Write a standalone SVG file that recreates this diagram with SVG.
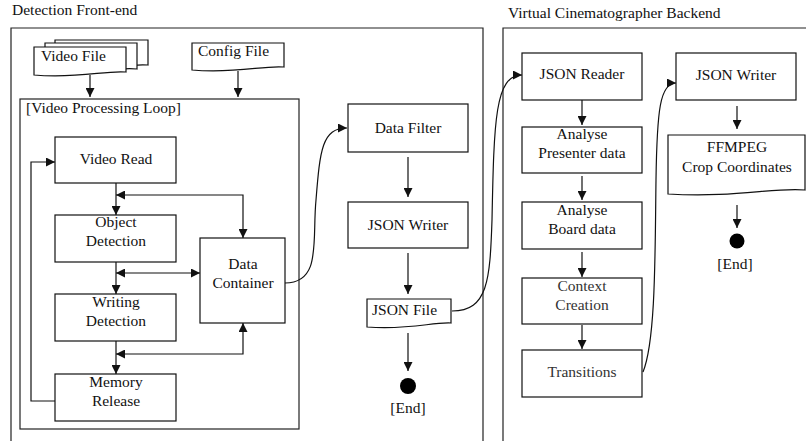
<svg xmlns="http://www.w3.org/2000/svg" width="806" height="441" viewBox="0 0 806 441" font-family="'Liberation Serif', 'Times New Roman', Times, serif" font-size="15.5">
<defs>
<style>
text{font-family:'Liberation Serif','Times New Roman',Times,serif;font-size:15.5px;fill:#111}
.c{text-anchor:middle}
.cm{fill:#333}
.box{fill:#fff;stroke:#111;stroke-width:1.2}
.frame{fill:none;stroke:#222;stroke-width:1.2}
.ln{fill:none;stroke:#111;stroke-width:1.2}
</style>
<marker id="ah" viewBox="0 0 10 10" refX="10" refY="5" markerWidth="9" markerHeight="9" markerUnits="userSpaceOnUse" orient="auto-start-reverse">
<path d="M0,0 L10,5 L0,10 Z" fill="#111"/>
</marker>
</defs>

<text x="12" y="15">Detection Front-end</text>
<text x="508" y="18">Virtual Cinematographer Backend</text>

<g id="frame-front"><path class="frame" d="M11,441 V28 H483 V441"/></g>
<g id="frame-back"><path class="frame" d="M503,441 V28 H806"/></g>

<g id="video-file">
<path class="box" d="M55,40 H148 V65 C128,63 100,72 55,68 Z"/>
<path class="box" d="M45,43 H137 V69 C117,66 90,76 45,72 Z"/>
<path class="box" d="M34,47 H126 V72 C106,70 78,79 34,75 Z"/>
<text x="41" y="61">Video File</text>
</g>
<g id="config-file">
<path class="box" d="M192,43 H284 V67 C264,65 236,74 192,70 Z"/>
<text x="198" y="56">Config File</text>
</g>

<g id="loop">
<rect class="frame" x="20" y="99" width="279" height="330"/>
<text x="26" y="113">[Video Processing Loop]</text>
</g>

<g id="video-read"><rect class="box" x="55" y="137" width="121" height="46"/><text class="c" x="116" y="164">Video Read</text></g>
<g id="object-detection"><rect class="box" x="55" y="215" width="121" height="47"/><text class="c" x="116" y="227">Object</text><text class="c" x="116" y="246">Detection</text></g>
<g id="data-container"><rect class="box" x="200" y="238" width="85" height="85"/><text class="c" x="243" y="269">Data</text><text class="c" x="243" y="288">Container</text></g>
<g id="writing-detection"><rect class="box" x="55" y="294" width="121" height="47"/><text class="c" x="116" y="307">Writing</text><text class="c" x="116" y="326">Detection</text></g>
<g id="memory-release"><rect class="box" x="55" y="374" width="121" height="47"/><text class="c" x="116" y="387">Memory</text><text class="c" x="116" y="406">Release</text></g>

<g id="data-filter"><rect class="box" x="348" y="104" width="120" height="48"/><text class="c" x="408" y="133">Data Filter</text></g>
<g id="json-writer-1"><rect class="box" x="348" y="202" width="120" height="46"/><text class="c" x="408" y="230">JSON Writer</text></g>
<g id="json-file">
<path class="box" d="M367,299 H451 V323 C431,322 412,330 367,327 Z"/>
<text x="372" y="315">JSON File</text>
</g>
<g id="end-1"><circle cx="408" cy="386" r="8" fill="#000"/><text class="c" x="408" y="413">[End]</text></g>

<g id="json-reader"><rect class="box" x="522" y="53" width="120" height="47"/><text class="c" x="582" y="79">JSON Reader</text></g>
<g id="analyse-presenter"><rect class="box" x="522" y="127" width="120" height="46"/><text class="c" x="582" y="139">Analyse</text><text class="c" x="582" y="158">Presenter data</text></g>
<g id="analyse-board"><rect class="box" x="522" y="202" width="120" height="47"/><text class="c" x="582" y="215">Analyse</text><text class="c" x="582" y="234">Board data</text></g>
<g id="context-creation"><rect class="box" x="522" y="278" width="120" height="46"/><text class="c cm" x="582" y="291">Context</text><text class="c cm" x="582" y="310">Creation</text></g>
<g id="transitions"><rect class="box" x="522" y="350" width="120" height="47"/><text class="c cm" x="582" y="377">Transitions</text></g>

<g id="json-writer-2"><rect class="box" x="676" y="53" width="120" height="47"/><text class="c" x="736" y="80">JSON Writer</text></g>
<g id="ffmpeg">
<path class="box" d="M668,135 H805 V190 C775,187 735,198 668,194 Z"/>
<text class="c" x="737" y="152">FFMPEG</text>
<text class="c" x="737" y="172">Crop Coordinates</text>
</g>
<g id="end-2"><circle cx="737" cy="241" r="7.5" fill="#000"/><text class="c" x="735" y="269">[End]</text></g>

<g id="connectors">
<path class="ln" d="M90,75 V97" marker-end="url(#ah)"/>
<path class="ln" d="M238,71 V97" marker-end="url(#ah)"/>
<path class="ln" d="M116,183 V215" marker-end="url(#ah)"/>
<path class="ln" d="M116,195 H243 V238" marker-start="url(#ah)" marker-end="url(#ah)"/>
<path class="ln" d="M116,262 V294" marker-end="url(#ah)"/>
<path class="ln" d="M116,273 H200" marker-start="url(#ah)" marker-end="url(#ah)"/>
<path class="ln" d="M116,341 V374" marker-end="url(#ah)"/>
<path class="ln" d="M116,354 H243 V323" marker-start="url(#ah)" marker-end="url(#ah)"/>
<path class="ln" d="M55,401 H31 V162 H55" marker-end="url(#ah)"/>
<path class="ln" d="M285,283 C322,283 312,240 316,200 C320,150 322,128 347,128" marker-end="url(#ah)"/>
<path class="ln" d="M408,157 V197" marker-end="url(#ah)"/>
<path class="ln" d="M408,253 V294" marker-end="url(#ah)"/>
<path class="ln" d="M408,333 V371" marker-end="url(#ah)"/>
<path class="ln" d="M452,311 C488,311 490,280 492,220 C494,120 495,75 522,75" marker-end="url(#ah)"/>
<path class="ln" d="M582,100 V125" marker-end="url(#ah)"/>
<path class="ln" d="M582,176 V200" marker-end="url(#ah)"/>
<path class="ln" d="M582,252 V277" marker-end="url(#ah)"/>
<path class="ln" d="M582,325 V349" marker-end="url(#ah)"/>
<path class="ln" d="M643,372 C656,340 655,250 656,180 C657,110 660,83 676,83" marker-end="url(#ah)"/>
<path class="ln" d="M737,106 V129" marker-end="url(#ah)"/>
<path class="ln" d="M737,205 V228" marker-end="url(#ah)"/>
</g>
</svg>
